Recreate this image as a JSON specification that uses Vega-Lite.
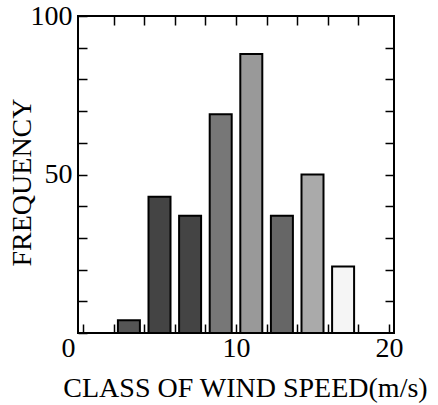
{
  "$schema": "https://vega.github.io/schema/vega-lite/v6.json",
  "width": 316,
  "height": 317,
  "autosize": "none",
  "padding": {"left": 78, "top": 16, "right": 44, "bottom": 72},
  "background": "white",
  "config": {
    "view": {"stroke": "black", "strokeWidth": 2},
    "axis": {
      "grid": false,
      "domain": false,
      "labelFont": "Liberation Serif",
      "titleFont": "Liberation Serif",
      "labelColor": "black",
      "titleColor": "black",
      "tickColor": "black",
      "tickWidth": 1.5,
      "labelFontSize": 28,
      "titleFontSize": 28,
      "titleFontWeight": "normal",
      "labelFontWeight": "normal"
    }
  },
  "data": {
    "values": [
      {"speed": 3, "frequency": 4},
      {"speed": 5, "frequency": 43},
      {"speed": 7, "frequency": 37},
      {"speed": 9, "frequency": 69},
      {"speed": 11, "frequency": 88},
      {"speed": 13, "frequency": 37},
      {"speed": 15, "frequency": 50},
      {"speed": 17, "frequency": 21}
    ]
  },
  "layer": [
    {
      "mark": {"type": "bar", "width": 22, "stroke": "black", "strokeWidth": 2},
      "encoding": {
        "x": {
          "field": "speed", "type": "quantitative",
          "scale": {"domain": [0, 20], "nice": false, "zero": false},
          "axis": {
            "orient": "bottom",
            "values": [0, 2, 4, 6, 8, 10, 12, 14, 16, 18, 20],
            "tickSize": -9,
            "labelExpr": "datum.value % 10 == 0 ? datum.label : ''",
            "labelOffset": {"condition": {"test": "datum.value == 0", "value": -15}, "value": 0},
            "labelPadding": 10,
            "title": "CLASS OF WIND SPEED(m/s)",
            "titlePadding": 12,
            "titleX": 167
          }
        },
        "y": {
          "field": "frequency", "type": "quantitative",
          "scale": {"domain": [0, 100], "nice": false},
          "axis": {
            "orient": "left",
            "values": [0, 10, 20, 30, 40, 50, 60, 70, 80, 90, 100],
            "tickSize": -9,
            "labelExpr": "datum.value == 50 || datum.value == 100 ? datum.label : ''",
            "labelPadding": 15,
            "title": "FREQUENCY",
            "titleX": -56,
            "titleY": 166,
            "titleBaseline": "middle",
            "titleAngle": -90
          }
        },
        "fill": {
          "field": "speed", "type": "ordinal",
          "scale": {"range": ["#555555", "#444444", "#444444", "#777777", "#999999", "#666666", "#aaaaaa", "#f5f5f5"]},
          "legend": null
        }
      }
    },
    {
      "mark": {"type": "bar", "width": 22, "opacity": 0},
      "encoding": {
        "x": {
          "field": "speed", "type": "quantitative",
          "scale": {"domain": [0, 20], "nice": false, "zero": false},
          "axis": {
            "orient": "top",
            "values": [2, 4, 6, 8, 10, 12, 14, 16, 18],
            "tickSize": -9,
            "labels": false,
            "title": null
          }
        },
        "y": {
          "field": "frequency", "type": "quantitative",
          "scale": {"domain": [0, 100], "nice": false},
          "axis": {
            "orient": "right",
            "values": [10, 20, 30, 40, 50, 60, 70, 80, 90],
            "tickSize": -9,
            "labels": false,
            "title": null
          }
        }
      }
    }
  ],
  "resolve": {"axis": {"x": "independent", "y": "independent"}}
}
